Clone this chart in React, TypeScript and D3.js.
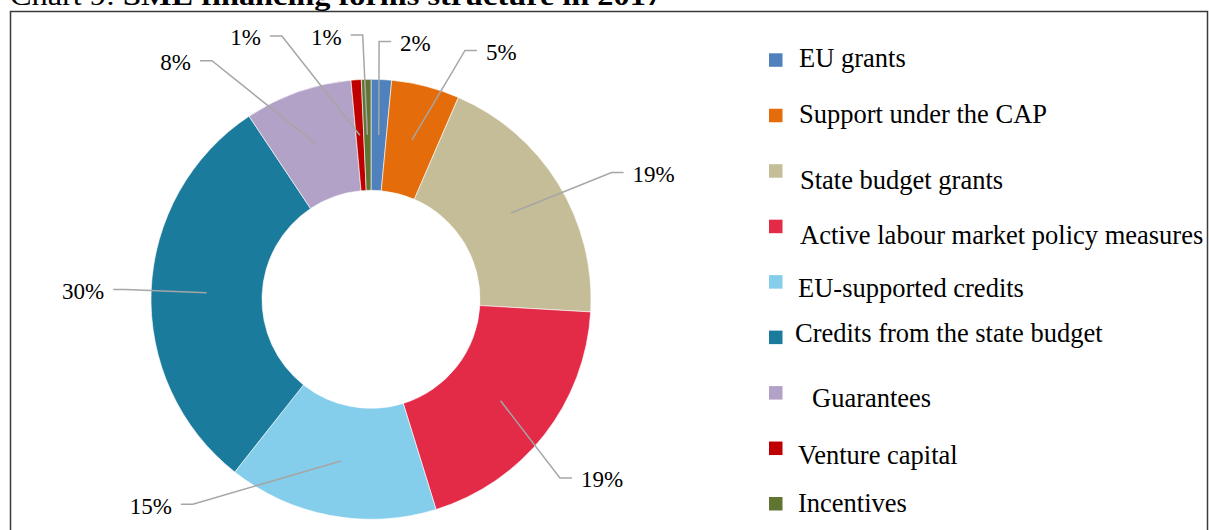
import React from "react";
import * as d3 from "d3";

// ---- data ----
const categories = [
  "EU grants",
  "Support under the CAP",
  "State budget grants",
  "Active labour market policy measures",
  "EU-supported credits",
  "Credits from the state budget",
  "Guarantees",
  "Venture capital",
  "Incentives",
];
const shares = [1.5, 5.0, 19.4, 19.3, 15.4, 30.0, 7.9, 0.75, 0.7];
const colors = [
  "#4f81bd",
  "#e46c0a",
  "#c4bd97",
  "#e32a47",
  "#84cdeb",
  "#1b7b9d",
  "#b3a2c7",
  "#c00000",
  "#5f7531",
];

// ---- layout (label elbow placement, polar, degrees clockwise from top) ----
const labelAngle = [1.8, 20.7, 62.2, 133.4, 221, 272.3, 326.3, 341.3, 358.2];
const labelRadius = [258, 266, 272, 260, 271.5, 246, 286.7, 278, 264.4];
const labelSide = [1, 1, 1, 1, -1, -1, -1, -1, -1];
const legendTextDx = [0, 0, 1, 1, -1, -4, 13, -1, -1];
const legendTextDy = [0, 0, 11, 10, 8, -3, 7, 8, 1];

const W = 1209;
const H = 530;
const cx = 371;
const cy = 299.3;
const rOuter = 220;
const rInner = 109;
const serif = '"Liberation Serif", "Times New Roman", Times, serif';

export default function App() {
  const pie = d3
    .pie<number>()
    .sort(null)
    .value((d) => d)
    .startAngle(0)
    .endAngle(2 * Math.PI);
  const arcs = pie(shares);
  const arcGen = d3.arc<d3.PieArcDatum<number>>().innerRadius(rInner).outerRadius(rOuter);
  const midR = (rInner + rOuter) / 2;
  const pct = (v: number) => `${Math.round(v)}%`;

  const polar = (angDeg: number, r: number) => {
    const a = (angDeg * Math.PI) / 180;
    return [cx + r * Math.sin(a), cy - r * Math.cos(a)];
  };

  const legendY = d3
    .scalePoint<number>()
    .domain(d3.range(categories.length))
    .range([53.3, 497])
    .padding(0);

  return (
    <div style={{ position: "absolute", left: 0, top: 0 }}>
      <svg width={W} height={H} style={{ display: "block", background: "#fff" }}>
        {/* title, partly clipped */}
        <text
          x={10}
          y={5}
          fontFamily={serif}
          fontSize={27}
          textLength={652}
          lengthAdjust="spacingAndGlyphs"
          fill="#000"
        >
          <tspan>Chart 9: </tspan>
          <tspan fontWeight="bold">SME financing forms structure in 2017</tspan>
        </text>
        {/* frame */}
        <path
          d={`M10.5,${H + 5} V11.5 H1207.5 V${H + 5}`}
          fill="none"
          stroke="#3a3a3a"
          strokeWidth={1.5}
        />
        {/* slices */}
        <g transform={`translate(${cx},${cy})`}>
          {arcs.map((a, i) => (
            <path key={i} d={arcGen(a) || ""} fill={colors[i]} stroke="#fff" strokeWidth={0.6} />
          ))}
        </g>
        {/* leader lines and labels */}
        {arcs.map((a, i) => {
          const mid = ((a.startAngle + a.endAngle) / 2) * (180 / Math.PI);
          const [ax, ay] = polar(mid, midR);
          const [ex, ey] = polar(labelAngle[i], labelRadius[i]);
          const side = labelSide[i];
          const hx = ex + side * 12;
          const tx = hx + side * 9;
          return (
            <g key={i}>
              <polyline
                points={`${ax},${ay} ${ex},${ey} ${hx},${ey}`}
                fill="none"
                stroke="#a6a6a6"
                strokeWidth={1.5}
              />
              <text
                x={tx}
                y={ey + 2}
                textAnchor={side > 0 ? "start" : "end"}
                dominantBaseline="central"
                fontFamily={serif}
                fontSize={23}
                fill="#000"
              >
                {pct(shares[i])}
              </text>
            </g>
          );
        })}
        {/* legend */}
        {categories.map((c, i) => {
          const y = legendY(i) as number;
          return (
            <g key={c}>
              <rect x={769} y={y} width={13.5} height={13.5} fill={colors[i]} />
              <text
                x={799 + legendTextDx[i]}
                y={y + 14 + legendTextDy[i]}
                fontFamily={serif}
                fontSize={26.5}
                fill="#000"
              >
                {c}
              </text>
            </g>
          );
        })}
      </svg>
    </div>
  );
}
